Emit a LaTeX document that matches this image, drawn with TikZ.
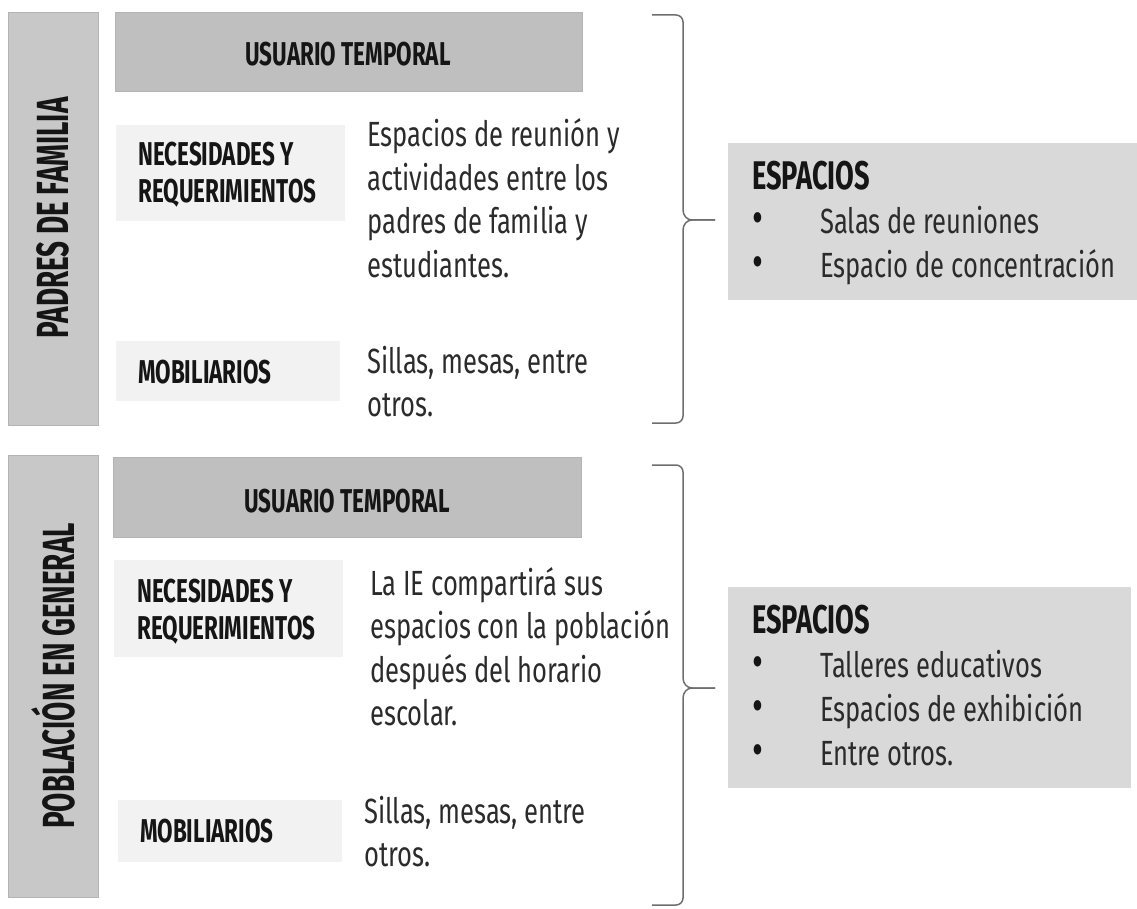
\documentclass[tikz,border=0pt]{standalone}
\usepackage{fontspec}
\setmainfont{Fira Sans}
\newfontfamily\bodyf[FakeStretch=0.73]{Fira Sans}
\newfontfamily\headf[FakeStretch=0.68]{Fira Sans}
\newfontfamily\sidef[FakeStretch=0.62]{Fira Sans}
\definecolor{sidegray}{HTML}{C8C8C8}
\definecolor{sideedge}{HTML}{B4B4B4}
\definecolor{usergray}{HTML}{BFBFBF}
\definecolor{needgray}{HTML}{F2F2F2}
\definecolor{espgray}{HTML}{D9D9D9}
\definecolor{txt}{HTML}{2B2B2B}
\definecolor{headtxt}{HTML}{151515}
\definecolor{bracegray}{HTML}{6E6E6E}
\newcommand{\vlines}[1]{\vtop{\halign{##\hfil\cr #1\crcr}}}
\newcommand{\bul}{\makebox[68pt][l]{{\fontsize{46}{44}\selectfont\color{headtxt}•}}}
\newcommand{\esphd}{{\headf\bfseries\fontsize{40}{44}\selectfont\color{headtxt}ESPACIOS}}
\begin{document}
\begin{tikzpicture}[x=1pt,y=-1pt,
  box/.style={anchor=north west, inner sep=0pt, outer sep=0pt},
  sidebox/.style={box, fill=sidegray, draw=sideedge, line width=0.8pt},
  userbox/.style={box, fill=usergray, draw=sideedge, line width=0.6pt},
  needbox/.style={box, fill=needgray},
  espbox/.style={box, fill=espgray},
  sidetext/.style={inner sep=0pt, text=headtxt, font=\sidef\bfseries\fontsize{45}{50}\selectfont},
  usertext/.style={inner sep=0pt, text=headtxt, font=\headf\bfseries\fontsize{33}{36}\selectfont},
  headtext/.style={anchor=base west, inner sep=0pt, text=headtxt, font=\headf\bfseries\fontsize{33}{37}\selectfont},
  bodytext/.style={anchor=base west, inner sep=0pt, text=txt, font=\bodyf\fontsize{35}{43.5}\selectfont},
  esptext/.style={anchor=base west, inner sep=0pt, text=txt, font=\bodyf\fontsize{35}{44}\selectfont},
  bracestyle/.style={draw=bracegray, line width=1.5pt, line join=round}
]
\useasboundingbox (0,0) rectangle (1137,909);

% ---------- top block ----------
\node[sidebox, minimum width=90pt, minimum height=413pt] (side1) at (8,12) {};
\node[sidetext, rotate=90] (side1t) at (53,218) {PADRES DE FAMILIA};
\node[userbox, minimum width=467pt, minimum height=79pt] (user1) at (115,12) {};
\node[usertext] (user1t) at (348,54) {USUARIO TEMPORAL};
\node[needbox, minimum width=229pt, minimum height=96pt] (nec1) at (116,125) {};
\node[headtext] (nec1t) at (138,166) {\vlines{NECESIDADES Y\cr REQUERIMIENTOS}};
\node[needbox, minimum width=224pt, minimum height=60pt] (mob1) at (116,341) {};
\node[headtext] (mob1t) at (138,383) {MOBILIARIOS};
\node[bodytext] (body1) at (367,147) {\vlines{Espacios de reunión y\cr actividades entre los\cr padres de familia y\cr estudiantes.}};
\node[bodytext] (sill1) at (367,373) {\vlines{Sillas, mesas, entre\cr otros.}};
\node[espbox, minimum width=409pt, minimum height=157pt] (esp1) at (728,143) {};
\node[esptext] (esp1t) at (752,190) {\vlines{\esphd\cr
  \bul Salas de reuniones\cr \bul Espacio de concentración}};
\coordinate (b1tip) at (715,220);
\draw[bracestyle] (652,15) -- (676,15) to[out=0,in=90] (683,22) -- (683,210)
  to[out=-90,in=180] (692,220) -- (b1tip);
\draw[bracestyle] (b1tip) -- (692,220) to[out=180,in=90] (683,230) -- (683,416)
  to[out=-90,in=0] (676,423) -- (652,423);

% ---------- bottom block ----------
\node[sidebox, minimum width=90pt, minimum height=442pt] (side2) at (8,455) {};
\node[sidetext, rotate=90] (side2t) at (53,676) {POBLACIÓN EN GENERAL};
\node[userbox, minimum width=468pt, minimum height=80pt] (user2) at (113,457) {};
\node[usertext] (user2t) at (347,501) {USUARIO TEMPORAL};
\node[needbox, minimum width=229pt, minimum height=97pt] (nec2) at (114,560) {};
\node[headtext] (nec2t) at (137,602) {\vlines{NECESIDADES Y\cr REQUERIMIENTOS}};
\node[needbox, minimum width=224pt, minimum height=62pt] (mob2) at (118,800) {};
\node[headtext] (mob2t) at (140,842) {MOBILIARIOS};
\node[bodytext] (body2) at (370,595) {\vlines{La IE compartirá sus\cr espacios con la población\cr después del horario\cr escolar.}};
\node[bodytext] (sill2) at (364,823) {\vlines{Sillas, mesas, entre\cr otros.}};
\node[espbox, minimum width=403pt, minimum height=201pt] (esp2) at (728,587) {};
\node[esptext] (esp2t) at (752,633) {\vlines{\esphd\cr
  \bul Talleres educativos\cr \bul Espacios de exhibición\cr \bul Entre otros.}};
\coordinate (b2tip) at (715,688);
\draw[bracestyle] (652,465) -- (676,465) to[out=0,in=90] (683,472) -- (683,678)
  to[out=-90,in=180] (692,688) -- (b2tip);
\draw[bracestyle] (b2tip) -- (692,688) to[out=180,in=90] (683,698) -- (683,898)
  to[out=-90,in=0] (676,905) -- (652,905);
\end{tikzpicture}
\end{document}
